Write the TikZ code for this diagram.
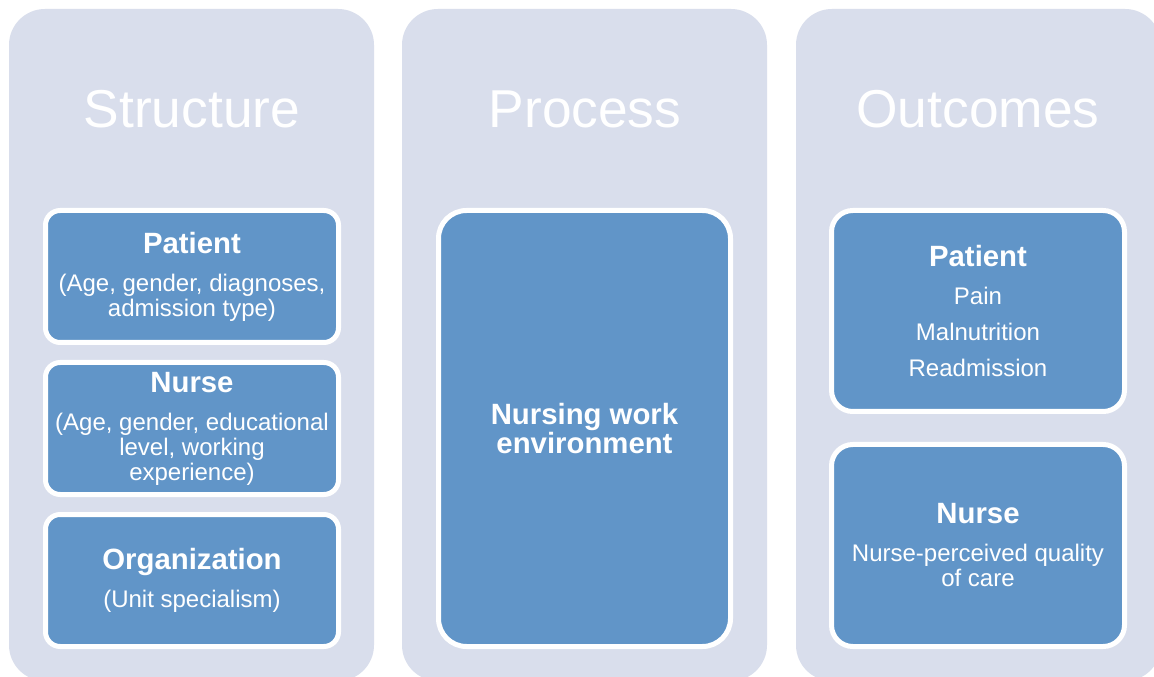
\documentclass[tikz,border=0pt]{standalone}
\usepackage{fontspec}
\setmainfont{Liberation Sans}
\definecolor{panelgrey}{RGB}{217,222,236}
\definecolor{cardblue}{RGB}{97,149,200}
\tikzset{
    panel/.style={fill=panelgrey, rounded corners=27pt},
    heading/.style={anchor=base, text=white, font=\fontsize{40}{40}\selectfont},
    card/.style={draw=white, line width=3.75pt, fill=cardblue, text=white, align=center, inner sep=0pt},
    body/.style={font=\fontsize{18}{18.75}\selectfont},
}
\newcommand{\cardtitle}[1]{{\bfseries\fontsize{22}{22}\selectfont #1}}
\begin{document}
\begin{tikzpicture}[x=0.75pt,y=-0.75pt]
        \clip (0,0) rectangle (1154,677);
        \fill [white] (0,0) rectangle (1154,677);
        % the three columns
        \fill [panel] (9,9) rectangle (374,681);
        \fill [panel] (402,9) rectangle (767,681);
        \fill [panel] (796,9) rectangle (1161,681);
        \node [heading] (structure) at (192,128) {Structure};
        \node [heading] (process) at (585,128) {Process};
        \node [heading] (outcomes) at (978,128) {Outcomes};
        % structure
        \node [card, body, rounded corners=11pt, minimum width=219.75pt, minimum height=99pt] (spatient) at (192,276.5)
            {\cardtitle{Patient}\\[9.75pt](Age, gender, diagnoses,\\admission type)};
        \node [card, body, rounded corners=11pt, minimum width=219.75pt, minimum height=99pt] (snurse) at (192,428.5)
            {\cardtitle{Nurse}\\[9.75pt](Age, gender, educational\\level, working\\experience)};
        \node [card, body, rounded corners=11pt, minimum width=219.75pt, minimum height=99pt] (sorg) at (192,580.5)
            {\cardtitle{Organization}\\[9.75pt](Unit specialism)};
        % process
        \node [card, font=\fontsize{22}{21.75}\selectfont\bfseries, rounded corners=21pt, minimum width=219pt, minimum height=327pt] (penv) at (584.5,428.5)
            {Nursing work\\environment};
        % outcomes
        \node [card, font=\fontsize{18}{27}\selectfont, rounded corners=16pt, minimum width=219.75pt, minimum height=150.75pt] (opatient) at (978,311)
            {\cardtitle{Patient}\\[1.5pt]Pain\\Malnutrition\\Readmission};
        \node [card, body, rounded corners=16pt, minimum width=219.75pt, minimum height=151.5pt] (onurse) at (978,545.5)
            {\cardtitle{Nurse}\\[9.75pt]Nurse-perceived quality\\of care};
\end{tikzpicture}
\end{document}
